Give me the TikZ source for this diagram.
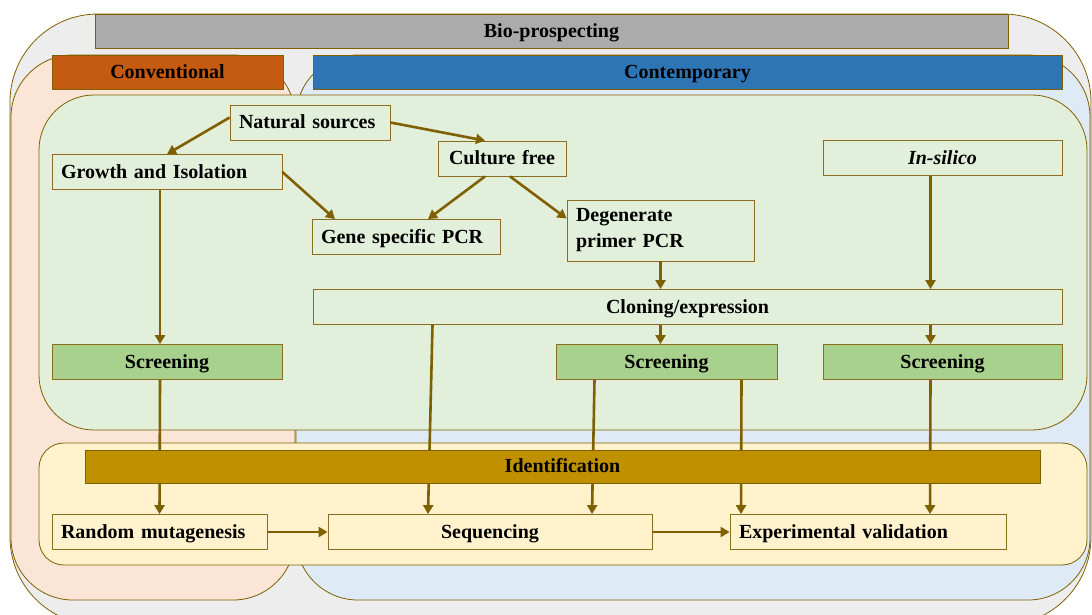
\documentclass[tikz,border=0pt]{standalone}
\usepackage{fontspec}
\setmainfont{Liberation Serif}
\usetikzlibrary{arrows.meta}

\definecolor{olivedark}{HTML}{7F6000}
\definecolor{boxline}{HTML}{8C6D1F}
\definecolor{outergray}{HTML}{EDEDED}
\definecolor{headgray}{HTML}{ABABAB}
\definecolor{convpink}{HTML}{FBE5D6}
\definecolor{convhead}{HTML}{C55A11}
\definecolor{contblue}{HTML}{DEEBF7}
\definecolor{conthead}{HTML}{2E75B6}
\definecolor{panelgreen}{HTML}{E2EFDA}
\definecolor{screengreen}{HTML}{A9D18E}
\definecolor{panelyellow}{HTML}{FFF2CC}
\definecolor{idgold}{HTML}{BF9000}

\begin{document}
\begin{tikzpicture}[x=1pt,y=-1pt,
	panel/.style={draw=olivedark, line width=0.8pt},
	head/.style={draw=olivedark, line width=0.6pt, minimum height=34pt, inner sep=0pt, text height=15pt, text depth=3pt, font=\fontsize{20}{24}\selectfont\bfseries},
	box/.style={draw=boxline, line width=0.8pt, minimum height=35pt, inner xsep=9pt, inner ysep=0pt, text width=#1, font=\fontsize{20}{26}\selectfont\bfseries},
	oneline/.style={text height=15pt, text depth=3pt},
	arr/.style={draw=olivedark, line width=2.6pt, -{Triangle[length=9pt,width=10pt]}}]
	\useasboundingbox (0,0) rectangle (1092,614);
	% containers
	\filldraw[panel, fill=outergray, rounded corners=88pt] (10,14) rectangle (1091,625);
	\filldraw[panel, fill=convpink, rounded corners=62pt] (11,55) rectangle (295,600);
	\filldraw[panel, fill=contblue, rounded corners=62pt] (296,55) rectangle (1090,600);
	\node (bio) at (551.5,31.5) [head, fill=headgray, minimum width=913pt] {Bio-prospecting};
	\node (conv) at (167.5,72) [head, fill=convhead, minimum width=231pt] {Conventional};
	\node (cont) at (687.5,72) [head, fill=conthead, minimum width=749pt] {Contemporary};
	\filldraw[panel, fill=panelgreen, rounded corners=55pt] (39,95) rectangle (1087,430);
	\filldraw[panel, fill=panelyellow, rounded corners=25pt] (39,443) rectangle (1087,565);
	% steps
	\node (nat) at (310,122.5) [box=142pt, oneline, fill=panelgreen] {Natural sources};
	\node (gro) at (167,172) [box=212pt, oneline, fill=panelgreen] {Growth and Isolation};
	\node (cf) at (502,158.5) [box=110pt, oneline, fill=panelgreen, align=center] {Culture free};
	\node (ins) at (942.5,158) [box=221pt, oneline, fill=panelgreen, align=center] {\textit{In-silico}};
	\node (gsp) at (406,237) [box=170pt, oneline, fill=panelgreen] {Gene specific PCR};
	\node (deg) at (660.5,230.5) [box=169pt, fill=panelgreen, minimum height=61pt, align=left] {Degenerate\\primer PCR};
	\node (cl) at (687.5,307) [box=731pt, oneline, fill=panelgreen, align=center] {Cloning/expression};
	\node (scr1) at (167,362) [box=212pt, oneline, fill=screengreen, align=center] {Screening};
	\node (scr2) at (666.5,362) [box=203pt, oneline, fill=screengreen, align=center] {Screening};
	\node (scr3) at (942.5,362) [box=221pt, oneline, fill=screengreen, align=center] {Screening};
	\node (rm) at (159.5,532) [box=197pt, oneline, fill=panelyellow] {Random mutagenesis};
	\node (seq) at (490,532) [box=306pt, oneline, fill=panelyellow, align=center] {Sequencing};
	\node (exp) at (868,532) [box=258pt, oneline, fill=panelyellow] {Experimental validation};
	% flow
	\draw[arr] ([yshift=5pt]nat.west) -- (gro.north);
	\draw[arr] (nat.east) -- ([xshift=-17pt]cf.north);
	\draw[arr] (gro.east) -- ([xshift=-71pt]gsp.north);
	\draw[arr] ([xshift=-17pt]cf.south) -- ([xshift=22pt]gsp.north);
	\draw[arr] ([xshift=8pt]cf.south) -- ([yshift=12pt]deg.west);
	\draw[arr] (deg.south) -- ([xshift=-27pt]cl.north);
	\draw[arr] ([xshift=-12pt]ins.south) -- ([xshift=243pt]cl.north);
	\draw[arr] ([xshift=-7pt]gro.south) -- ([xshift=-7pt]scr1.north);
	\draw[arr] ([xshift=-27pt]cl.south) -- ([xshift=-6pt]scr2.north);
	\draw[arr] ([xshift=243pt]cl.south) -- ([xshift=-12pt]scr3.north);
	\draw[arr] ([xshift=-7pt]scr1.south) -- (rm.north);
	\draw[arr] ([xshift=-255pt]cl.south) -- ([xshift=-62pt]seq.north);
	\draw[arr] ([xshift=-72pt]scr2.south) -- ([xshift=102pt]seq.north);
	\draw[arr] ([xshift=75pt]scr2.south) -- ([xshift=-127pt]exp.north);
	\draw[arr] ([xshift=-12pt]scr3.south) -- ([xshift=62pt]exp.north);
	\draw[arr] (rm.east) -- (seq.west);
	\draw[arr] (seq.east) -- (exp.west);
	\node (idf) at (562.5,466.5) [head, fill=idgold, minimum width=955pt, minimum height=33pt] {Identification};
\end{tikzpicture}
\end{document}
